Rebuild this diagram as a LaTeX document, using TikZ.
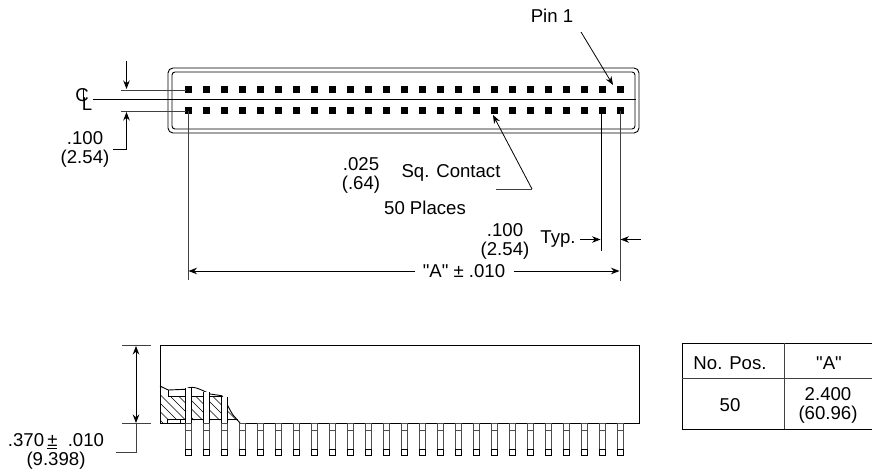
\documentclass[tikz,border=0pt]{standalone}
\usepackage{fontspec}
\newfontfamily\lblfont{Liberation Sans}
\usetikzlibrary{arrows.meta}
\tikzset{
	lbl/.style={inner sep=0pt,align=center,font=\lblfont\fontsize{18.6}{19.5}\selectfont},
	part/.style={black,line width=.9pt},
	dimline/.style={black!75,line width=.9pt},
	dimarrow/.style={black,line width=.8pt,-{Stealth[length=8.5pt,width=6.5pt]}},
	pinline/.style={black!70,line width=.9pt}
}
\begin{document}
\begin{tikzpicture}[x=1pt,y=-1pt]
	\useasboundingbox (0,0) rectangle (872,470);
	% top view
	\draw[part,rounded corners=5pt] (168,68) rectangle (639,133);
	\draw[part,rounded corners=3pt] (172,72) rectangle (635,129);
	\foreach \i in {0,...,24} {
		\fill (184.5+18*\i,86.5) rectangle +(7,7);
		\fill (184.5+18*\i,107.5) rectangle +(7,7);
	}
	\node[lbl] (c) at (82,95) {C};
	\node[lbl] (l) at (87,104) {L};
	\draw[part] (83.5,89) -- (83.5,100);
	\coordinate (centerl) at (93,99.5);
	\coordinate (centerr) at (636,99.5);
	\draw[part] (centerl) -- (centerr);
	\coordinate (rowa) at (121,90);
	\coordinate (rowb) at (121,111);
	\draw[dimline] (rowa) -- (186,90);
	\draw[dimline] (rowb) -- (186,111);
	\coordinate (upa) at (126.5,61);
	\draw[dimarrow] (upa) -- (126.5,89);
	\node[lbl] (pitchl) at (85,149.5) {.100\\(2.54)};
	\coordinate (elbow) at (126.5,149);
	\draw[dimarrow] (113,149) -- (elbow) -- (126.5,112);
	\node[lbl] (pin) at (552,16) {Pin 1};
	\coordinate (pinfrom) at (581,32);
	\coordinate (pinto) at (613,85);
	\draw[dimarrow] (pinfrom) -- (pinto);
	\node[lbl] (size) at (361,175.5) {.025\\(.64)};
	\node[lbl] (sq) at (451,173) {Sq. Contact};
	\node[lbl] (places) at (425,208) {50 Places};
	\coordinate (sqa) at (496,189);
	\coordinate (sqb) at (532,189);
	\coordinate (sqc) at (493,115);
	\draw[dimline] (sqa) -- (sqb);
	\draw[dimarrow] (sqb) -- (sqc);
	\node[lbl] (pitchr) at (505,241.5) {.100\\(2.54)};
	\node[lbl] (typ) at (558,239) {Typ.};
	\draw[dimarrow] (580,239.5) -- (600.5,239.5);
	\draw[dimarrow] (641,239.5) -- (620.5,239.5);
	\draw[part] (601,111) -- (601,251);
	\draw[dimline] (620,111) -- (620,281);
	\draw[dimline] (188,111) -- (188,280);
	\node[lbl] (dima) at (464,271.5) {"A" ± .010};
	\draw[dimarrow] (415,271) -- (188.5,271);
	\draw[dimarrow] (514,271) -- (619.5,271);
	% side view
	\draw[part] (160,423) -- (160,345) -- (639,345) -- (639,423) -- (240,423);
	\draw[part] (160,423) -- (186,423);
	\draw[dimline] (122,345) -- (151,345);
	\draw[dimline] (122,423) -- (151,423);
	\draw[black,line width=.8pt,{Stealth[length=8.5pt,width=6.5pt]}-{Stealth[length=8.5pt,width=6.5pt]}] (136,346) -- (136,423);
	\draw[dimline] (136,423) -- (136,452) -- (116,452);
	\node[lbl] (high) at (56,451.5) {.370\,\underline{±}\ \ .010\\(9.398)};
	% cut-away
	\begin{scope}
		\clip (160,386) -- (168,396) -- (222,396) -- (227,403) -- (233,415) -- (238,420) -- (180,420) -- (168,420) -- (168,423) -- (160,423) -- cycle;
		\foreach \i in {0,...,14} {
			\draw[black,line width=.7pt] (120+8.5*\i,380) -- +(60,60);
		}
	\end{scope}
	\draw[part] (160,386) -- (168.3,390) -- (185,389.3) .. controls (188,388) and (190,387) .. (192,387.3) .. controls (196,387) and (204,391) .. (210,394) -- (221.7,395.7) .. controls (225,399) and (229,409) .. (233,415) -- (240,423);
	\draw[part] (168.3,390) -- (168.3,396) -- (222,396);
	\draw[part] (167,419.5) -- (238,419.5);
	\draw[part] (167,419.5) -- (167,423);
	\draw[part] (180,419.5) -- (180,423);
	\foreach \i in {0,...,24} {
		\fill[white] (185+18*\i,423) rectangle +(6,32);
		\draw[pinline] (185+18*\i,423) rectangle +(6,32);
		\draw[pinline] (185+18*\i,430) -- +(6,0);
		\draw[part] (185+18*\i,449) -- +(0,6) -- +(6,6) -- +(6,0) -- cycle;
	}
	\foreach \i/\t in {0/387.5,1/392,2/396.5} {
		\fill[white] (185+18*\i,\t) rectangle (191+18*\i,423);
		\draw[part] (185+18*\i,423) -- (185+18*\i,\t);
		\draw[part] (191+18*\i,423) -- (191+18*\i,\t);
	}
	% table
	\draw[part] (872,343) -- (682,343) -- (682,429) -- (872,429);
	\draw[dimline] (682,378) -- (872,378);
	\draw[dimline] (784,343) -- (784,429);
	\node[lbl] (npos) at (730,363) {No. Pos.};
	\node[lbl] (aa) at (829,363) {"A"};
	\node[lbl] (fifty) at (730,405) {50};
	\node[lbl] (aval) at (828,405.5) {2.400\\(60.96)};
\end{tikzpicture}
\end{document}
